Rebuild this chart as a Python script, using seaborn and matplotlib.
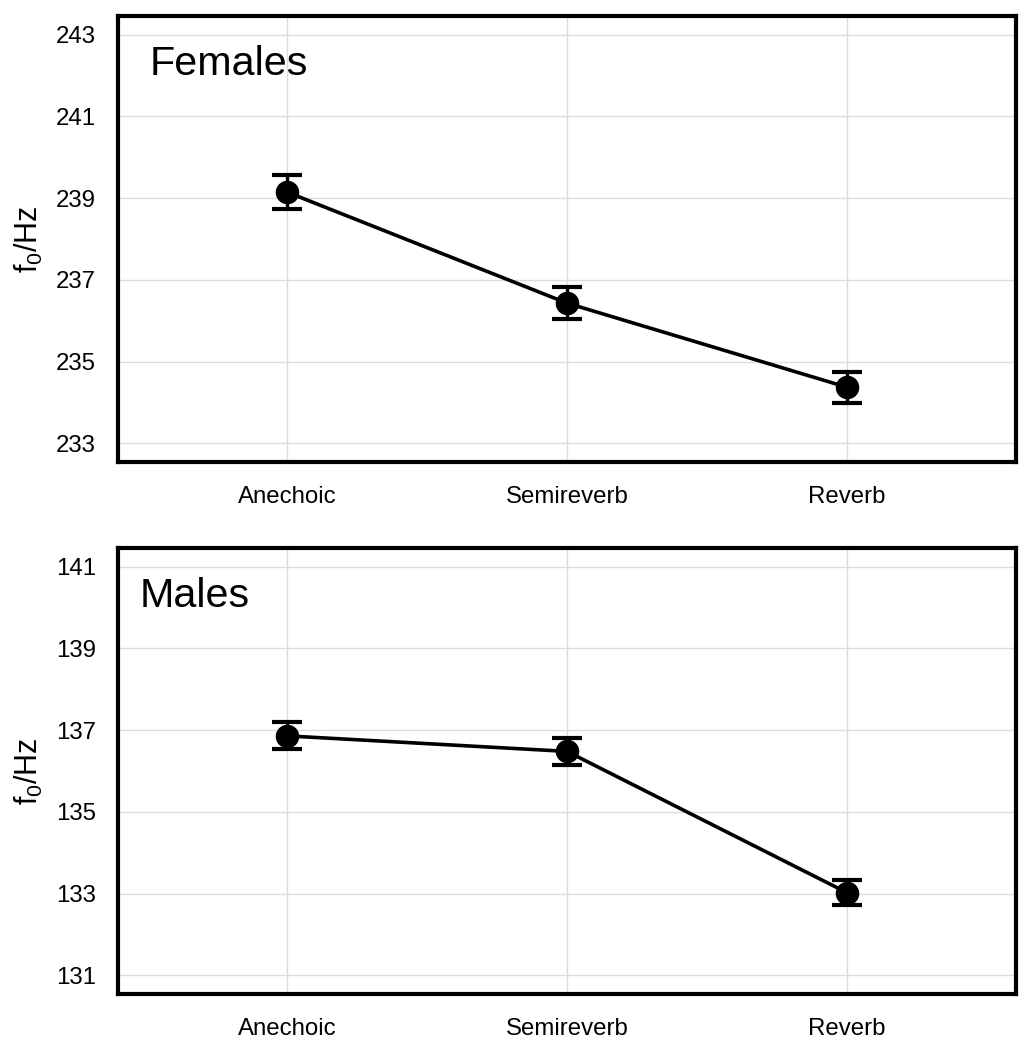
import matplotlib
matplotlib.use("Agg")
import matplotlib.pyplot as plt
import seaborn as sns
import pandas as pd

conditions = ["Anechoic", "Semireverb", "Reverb"]
female_f0 = [239.15, 236.43, 234.37]
female_err = [0.41, 0.39, 0.38]
male_f0 = [136.86, 136.48, 133.02]
male_err = [0.33, 0.33, 0.31]
female_ticks = [233, 235, 237, 239, 241, 243]
male_ticks = [131, 133, 135, 137, 139, 141]

sns.set_theme(style="whitegrid")
plt.rcParams["font.family"] = ["Liberation Sans", "DejaVu Sans"]
plt.rcParams["mathtext.fontset"] = "custom"
plt.rcParams["mathtext.rm"] = "Liberation Sans"
plt.rcParams["mathtext.it"] = "Liberation Sans"

fig = plt.figure(figsize=(10.29, 10.5), dpi=100)
W, H = 1029, 1050
ax_top = fig.add_axes([118 / W, 1 - 462 / H, (1016 - 118) / W, (462 - 16) / H])
ax_bot = fig.add_axes([118 / W, 1 - 994 / H, (1016 - 118) / W, (994 - 548) / H])

panels = [
    (ax_top, female_f0, female_err, female_ticks, "Females", (232.54, 243.46), 0.035),
    (ax_bot, male_f0, male_err, male_ticks, "Males", (130.54, 141.46), 0.024),
]

for ax, vals, errs, ticks, title, ylim, tx in panels:
    df = pd.DataFrame({"condition": conditions, "f0": vals, "err": errs})
    ax.errorbar(range(len(conditions)), df["f0"], yerr=df["err"], fmt="none",
                ecolor="black", elinewidth=2.4, capsize=10.5, capthick=3.0, zorder=3)
    sns.pointplot(data=df, x="condition", y="f0", ax=ax, color="black",
                  errorbar=None, markers="o", linewidth=2.6,
                  markersize=15, zorder=4)
    ax.set_xlim(-0.603, 2.603)
    ax.set_ylim(*ylim)
    ax.set_yticks(ticks)
    ax.set_yticklabels([str(t) for t in ticks])
    ax.grid(True, color="#dcdcdc", linewidth=1.0)
    ax.set_axisbelow(True)
    for sp in ax.spines.values():
        sp.set_visible(True)
        sp.set_color("black")
        sp.set_linewidth(3.0)
    ax.tick_params(axis="both", length=0, labelsize=17.3, colors="black")
    ax.tick_params(axis="y", pad=16)
    ax.tick_params(axis="x", pad=17)
    ax.set_xlabel("")
    ax.set_ylabel(r"f$_0$/Hz", fontsize=22, labelpad=8, color="black")
    ax.text(tx, 0.935, title, transform=ax.transAxes, fontsize=29.7,
            va="top", ha="left", color="black")

fig.savefig("out.png", dpi=100, facecolor="white")
